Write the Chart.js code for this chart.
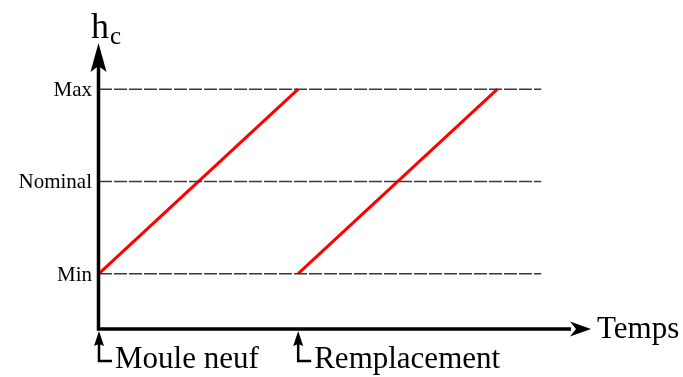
<!DOCTYPE html>
<html>
<head>
<meta charset="utf-8">
<script src="https://cdn.jsdelivr.net/npm/chart.js@4/dist/chart.umd.min.js"></script>
<style>
  html, body { margin: 0; padding: 0; background: #fff; }
  canvas { display: block; }
</style>
</head>
<body>
<canvas id="cs" width="683" height="377"></canvas>
<script>
// levels of h_c
var levelLabels = ["Min", "Nominal", "Max"];
var levelValues = [0, 1, 2];
var dashEnd = 2.22;

// wear cycles (time, h_c)
var cycle1Time = [0, 1];
var cycle1Level = [0, 2];
var cycle2Time = [1, 2];
var cycle2Level = [0, 2];

// events on the time axis
var eventLabels = ["Moule neuf", "Remplacement"];
var eventTimes = [0, 1];

var yTitle = "h", ySub = "c", xTitle = "Temps";
var serif = "'Liberation Serif', 'DejaVu Serif', serif";

function pts(xs, ys) {
  return xs.map(function (x, i) { return { x: x, y: ys[i] }; });
}

var datasets = levelValues.map(function (v) {
  return {
    data: [{ x: 0, y: v }, { x: dashEnd, y: v }],
    borderColor: "#3a3a3a",
    borderWidth: 1.5,
    borderDash: [13, 2],
    pointRadius: 0
  };
});
datasets.push({ data: pts(cycle1Time, cycle1Level), borderColor: "#ff0000", borderWidth: 3, pointRadius: 0 });
datasets.push({ data: pts(cycle2Time, cycle2Level), borderColor: "#ff0000", borderWidth: 3, pointRadius: 0 });

function arrowUp(c, x, tip, len, half, notch) {
  c.beginPath();
  c.moveTo(x, tip);
  c.lineTo(x - half, tip + len);
  c.lineTo(x, tip + len - notch);
  c.lineTo(x + half, tip + len);
  c.closePath();
  c.fill();
}

var axesPlugin = {
  id: "axes",
  afterDatasetsDraw: function (chart) {
    var c = chart.ctx, xs = chart.scales.x, ys = chart.scales.y;
    var x0 = xs.getPixelForValue(0), y0 = ys.getPixelForValue(ys.min);
    var xEnd = xs.getPixelForValue(xs.max), yTop = ys.getPixelForValue(ys.max);
    c.save();
    c.strokeStyle = "#000";
    c.fillStyle = "#000";
    c.lineWidth = 3.5;
    c.beginPath();
    c.moveTo(x0 - 0.5, yTop + 20);
    c.lineTo(x0 - 0.5, y0);
    c.lineTo(xEnd - 20, y0);
    c.stroke();
    arrowUp(c, x0 - 0.5, yTop, 29, 8, 6);
    // x arrow
    c.beginPath();
    c.moveTo(xEnd, y0);
    c.lineTo(xEnd - 21, y0 - 7.5);
    c.lineTo(xEnd - 15, y0);
    c.lineTo(xEnd - 21, y0 + 7.5);
    c.closePath();
    c.fill();

    // axis titles
    c.textAlign = "left";
    c.textBaseline = "alphabetic";
    c.font = "36px " + serif;
    c.fillText(yTitle, 91, 38);
    c.font = "25px " + serif;
    c.fillText(ySub, 110, 44);
    c.font = "31px " + serif;
    c.fillText(xTitle, 597, 338);

    // level labels
    c.font = "21px " + serif;
    c.textAlign = "right";
    levelLabels.forEach(function (t, i) {
      c.fillText(t, 92, ys.getPixelForValue(levelValues[i]) + 7);
    });

    // event markers
    c.textAlign = "left";
    c.font = "31px " + serif;
    c.lineWidth = 2.5;
    eventLabels.forEach(function (t, i) {
      var ex = xs.getPixelForValue(eventTimes[i]);
      arrowUp(c, ex, y0 + 2, 15, 5, 2);
      c.beginPath();
      c.moveTo(ex, y0 + 14);
      c.lineTo(ex, y0 + 32);
      c.lineTo(ex + 13, y0 + 32);
      c.stroke();
      c.fillText(t, ex + 16, 368);
    });
    c.restore();
  }
};

new Chart(document.getElementById("cs"), {
  type: "line",
  data: { datasets: datasets },
  options: {
    responsive: false,
    animation: false,
    layout: { padding: { left: 99, right: 92, top: 43, bottom: 48 } },
    plugins: { legend: { display: false }, tooltip: { enabled: false } },
    scales: {
      x: { type: "linear", min: 0, max: 2.47, display: false },
      y: { type: "linear", min: -0.6, max: 2.5, display: false }
    }
  },
  plugins: [axesPlugin]
});
</script>
</body>
</html>
